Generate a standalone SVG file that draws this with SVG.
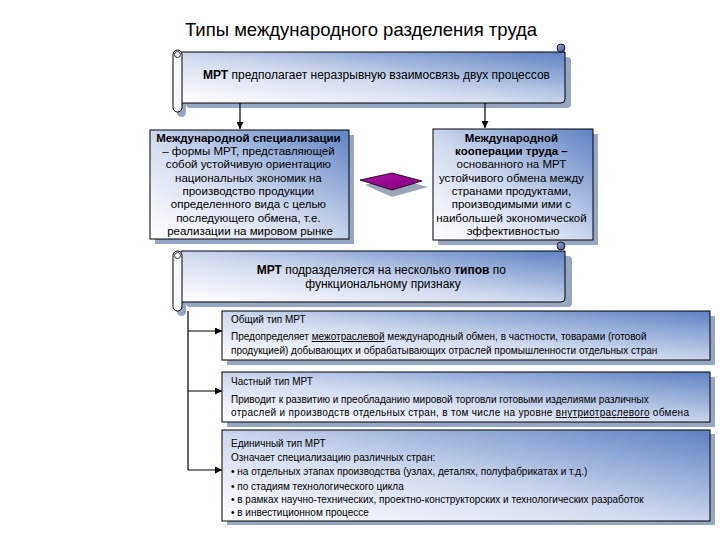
<svg xmlns="http://www.w3.org/2000/svg" width="720" height="540" viewBox="0 0 720 540">
<defs>
<linearGradient id="bg" x1="0" y1="1" x2="1" y2="0">
<stop offset="0" stop-color="#ffffff"/>
<stop offset="0.45" stop-color="#d3dcef"/>
<stop offset="1" stop-color="#5d81c3"/>
</linearGradient>
<linearGradient id="curl" x1="0" y1="0" x2="1" y2="1">
<stop offset="0" stop-color="#9fb3da"/>
<stop offset="1" stop-color="#34508a"/>
</linearGradient>
<linearGradient id="dia" x1="0" y1="0" x2="1" y2="1">
<stop offset="0" stop-color="#b0109f"/>
<stop offset="1" stop-color="#800080"/>
</linearGradient>
<marker id="ah" viewBox="0 0 10 10" refX="10" refY="5" markerWidth="7" markerHeight="7" orient="auto" markerUnits="userSpaceOnUse">
<path d="M0,0 L10,5 L0,10 Z" fill="#000"/>
</marker>
<style>
.sh{fill:#97a6c3}
.box{fill:url(#bg);stroke:#000;stroke-width:1}
.roll{fill:#f7f9fd;stroke:#000;stroke-width:1}
.t{font-family:"Liberation Sans",Arial,sans-serif;fill:#000}
.c{text-anchor:middle}
.m{font-size:11.5px}
.l{font-size:12px}
.s{font-size:10px}
.b{font-weight:bold}
.ln{stroke:#000;stroke-width:1.2;fill:none}
</style>
</defs>

<text class="t" x="361" y="36" text-anchor="middle" font-size="18.5" font-family="'Open Sans','Liberation Sans',sans-serif">Типы международного разделения труда</text>

<g id="scroll1">
<rect class="sh" x="186" y="57" width="385" height="51" rx="4"/>
<rect class="sh" x="177" y="60" width="9" height="57" rx="4.5"/>
<path class="box" d="M181,52 H565 V99 Q565,103 561,103 H181 Z"/>
<circle cx="561" cy="48" r="4" fill="url(#curl)" stroke="#000" stroke-width="0.8"/>
<rect class="roll" x="173" y="50" width="9" height="62" rx="4.5"/>
<circle cx="177.5" cy="54.5" r="3" fill="none" stroke="#000" stroke-width="0.8"/>
<text class="t l" x="203" y="79"><tspan class="b">МРТ</tspan> предполагает неразрывную взаимосвязь двух процессов</text>
</g>

<g id="box-spec">
<rect class="sh" x="155" y="135" width="199" height="109"/>
<rect class="box" x="150" y="130" width="199" height="109"/>
<text class="t m c" x="250">
<tspan class="b" x="250" y="142">Международной специализации</tspan>
<tspan x="250" y="155">– формы МРТ, представляющей</tspan>
<tspan x="250" y="168">собой устойчивую ориентацию</tspan>
<tspan x="250" y="182">национальных экономик на</tspan>
<tspan x="250" y="195">производство продукции</tspan>
<tspan x="250" y="208">определенного вида с целью</tspan>
<tspan x="250" y="222">последующего обмена, т.е.</tspan>
<tspan x="250" y="235">реализации на мировом рынке</tspan>
</text>
</g>

<g id="box-coop">
<rect class="sh" x="438" y="134" width="160" height="111"/>
<rect class="box" x="433" y="129" width="160" height="111"/>
<text class="t m c" x="513">
<tspan class="b" x="513" y="142">Международной</tspan>
<tspan class="b" x="513" y="155">кооперации труда –</tspan>
<tspan x="513" y="168">основанного на МРТ</tspan>
<tspan x="513" y="182">устойчивого обмена между</tspan>
<tspan x="513" y="195">странами продуктами,</tspan>
<tspan x="513" y="208">производимыми ими с</tspan>
<tspan x="513" y="222">наибольшей экономической</tspan>
<tspan x="513" y="235">эффективностью</tspan>
</text>
</g>

<g id="diamond">
<polygon points="365,185 395,178 428,187 392,197" fill="#9aa5b8"/>
<polygon points="360,180 392,173 422,181 392,190" fill="url(#dia)" stroke="#000" stroke-width="0.8"/>
</g>

<g id="scroll2">
<rect class="sh" x="186" y="256" width="386" height="51" rx="4"/>
<rect class="sh" x="177" y="260" width="9" height="56" rx="4.5"/>
<path class="box" d="M181,251 H565 V298 Q565,302 561,302 H181 Z"/>
<circle cx="561" cy="246" r="4" fill="url(#curl)" stroke="#000" stroke-width="0.8"/>
<rect class="roll" x="173" y="251" width="9" height="60" rx="4.5"/>
<circle cx="177.5" cy="255.5" r="3" fill="none" stroke="#000" stroke-width="0.8"/>
<text class="t l c" x="383">
<tspan x="383" y="274"><tspan class="b">МРТ</tspan> подразделяется на несколько <tspan class="b">типов</tspan> по</tspan>
<tspan x="383" y="288">функциональному признаку</tspan>
</text>
</g>

<g id="type-general">
<rect class="sh" x="227" y="316" width="488" height="49"/>
<rect class="box" x="222" y="311" width="488" height="49"/>
<text class="t s" x="231" y="323">Общий тип МРТ</text>
<text class="t s" x="231" y="340">Предопределяет <tspan text-decoration="underline">межотраслевой</tspan> международный обмен, в частности, товарами (готовой</text>
<text class="t s" x="231" y="354">продукцией) добывающих и обрабатывающих отраслей промышленности отдельных стран</text>
</g>

<g id="type-partial">
<rect class="sh" x="227" y="377" width="488" height="50"/>
<rect class="box" x="222" y="372" width="488" height="50"/>
<text class="t s" x="231" y="385">Частный тип МРТ</text>
<text class="t s" x="231" y="403">Приводит к развитию и преобладанию мировой торговли готовыми изделиями различных</text>
<text class="t s" x="231" y="416" textLength="458" lengthAdjust="spacing">отраслей и производств отдельных стран, в том числе на уровне <tspan text-decoration="underline">внутриотраслевого</tspan> обмена</text>
</g>

<g id="type-single">
<rect class="sh" x="227" y="434" width="488" height="91"/>
<rect class="box" x="222" y="430" width="488" height="91"/>
<text class="t s" x="231" y="447">Единичный тип МРТ</text>
<text class="t s" x="231" y="461">Означает специализацию различных стран:</text>
<text class="t s" x="231" y="475">• на отдельных этапах производства (узлах, деталях, полуфабрикатах и т.д.)</text>
<text class="t s" x="231" y="490">• по стадиям технологического цикла</text>
<text class="t s" x="231" y="503">• в рамках научно-технических, проектно-конструкторских и технологических разработок</text>
<text class="t s" x="231" y="516">• в инвестиционном процессе</text>
</g>

<g id="connectors">
<line class="ln" x1="240" y1="103" x2="240" y2="129" marker-end="url(#ah)"/>
<line class="ln" x1="485" y1="103" x2="485" y2="128" marker-end="url(#ah)"/>
<line class="ln" x1="188" y1="311" x2="188" y2="470"/>
<line class="ln" x1="188" y1="331" x2="222" y2="331" marker-end="url(#ah)"/>
<line class="ln" x1="188" y1="391" x2="222" y2="391" marker-end="url(#ah)"/>
<line class="ln" x1="188" y1="470" x2="222" y2="470" marker-end="url(#ah)"/>
</g>
</svg>
